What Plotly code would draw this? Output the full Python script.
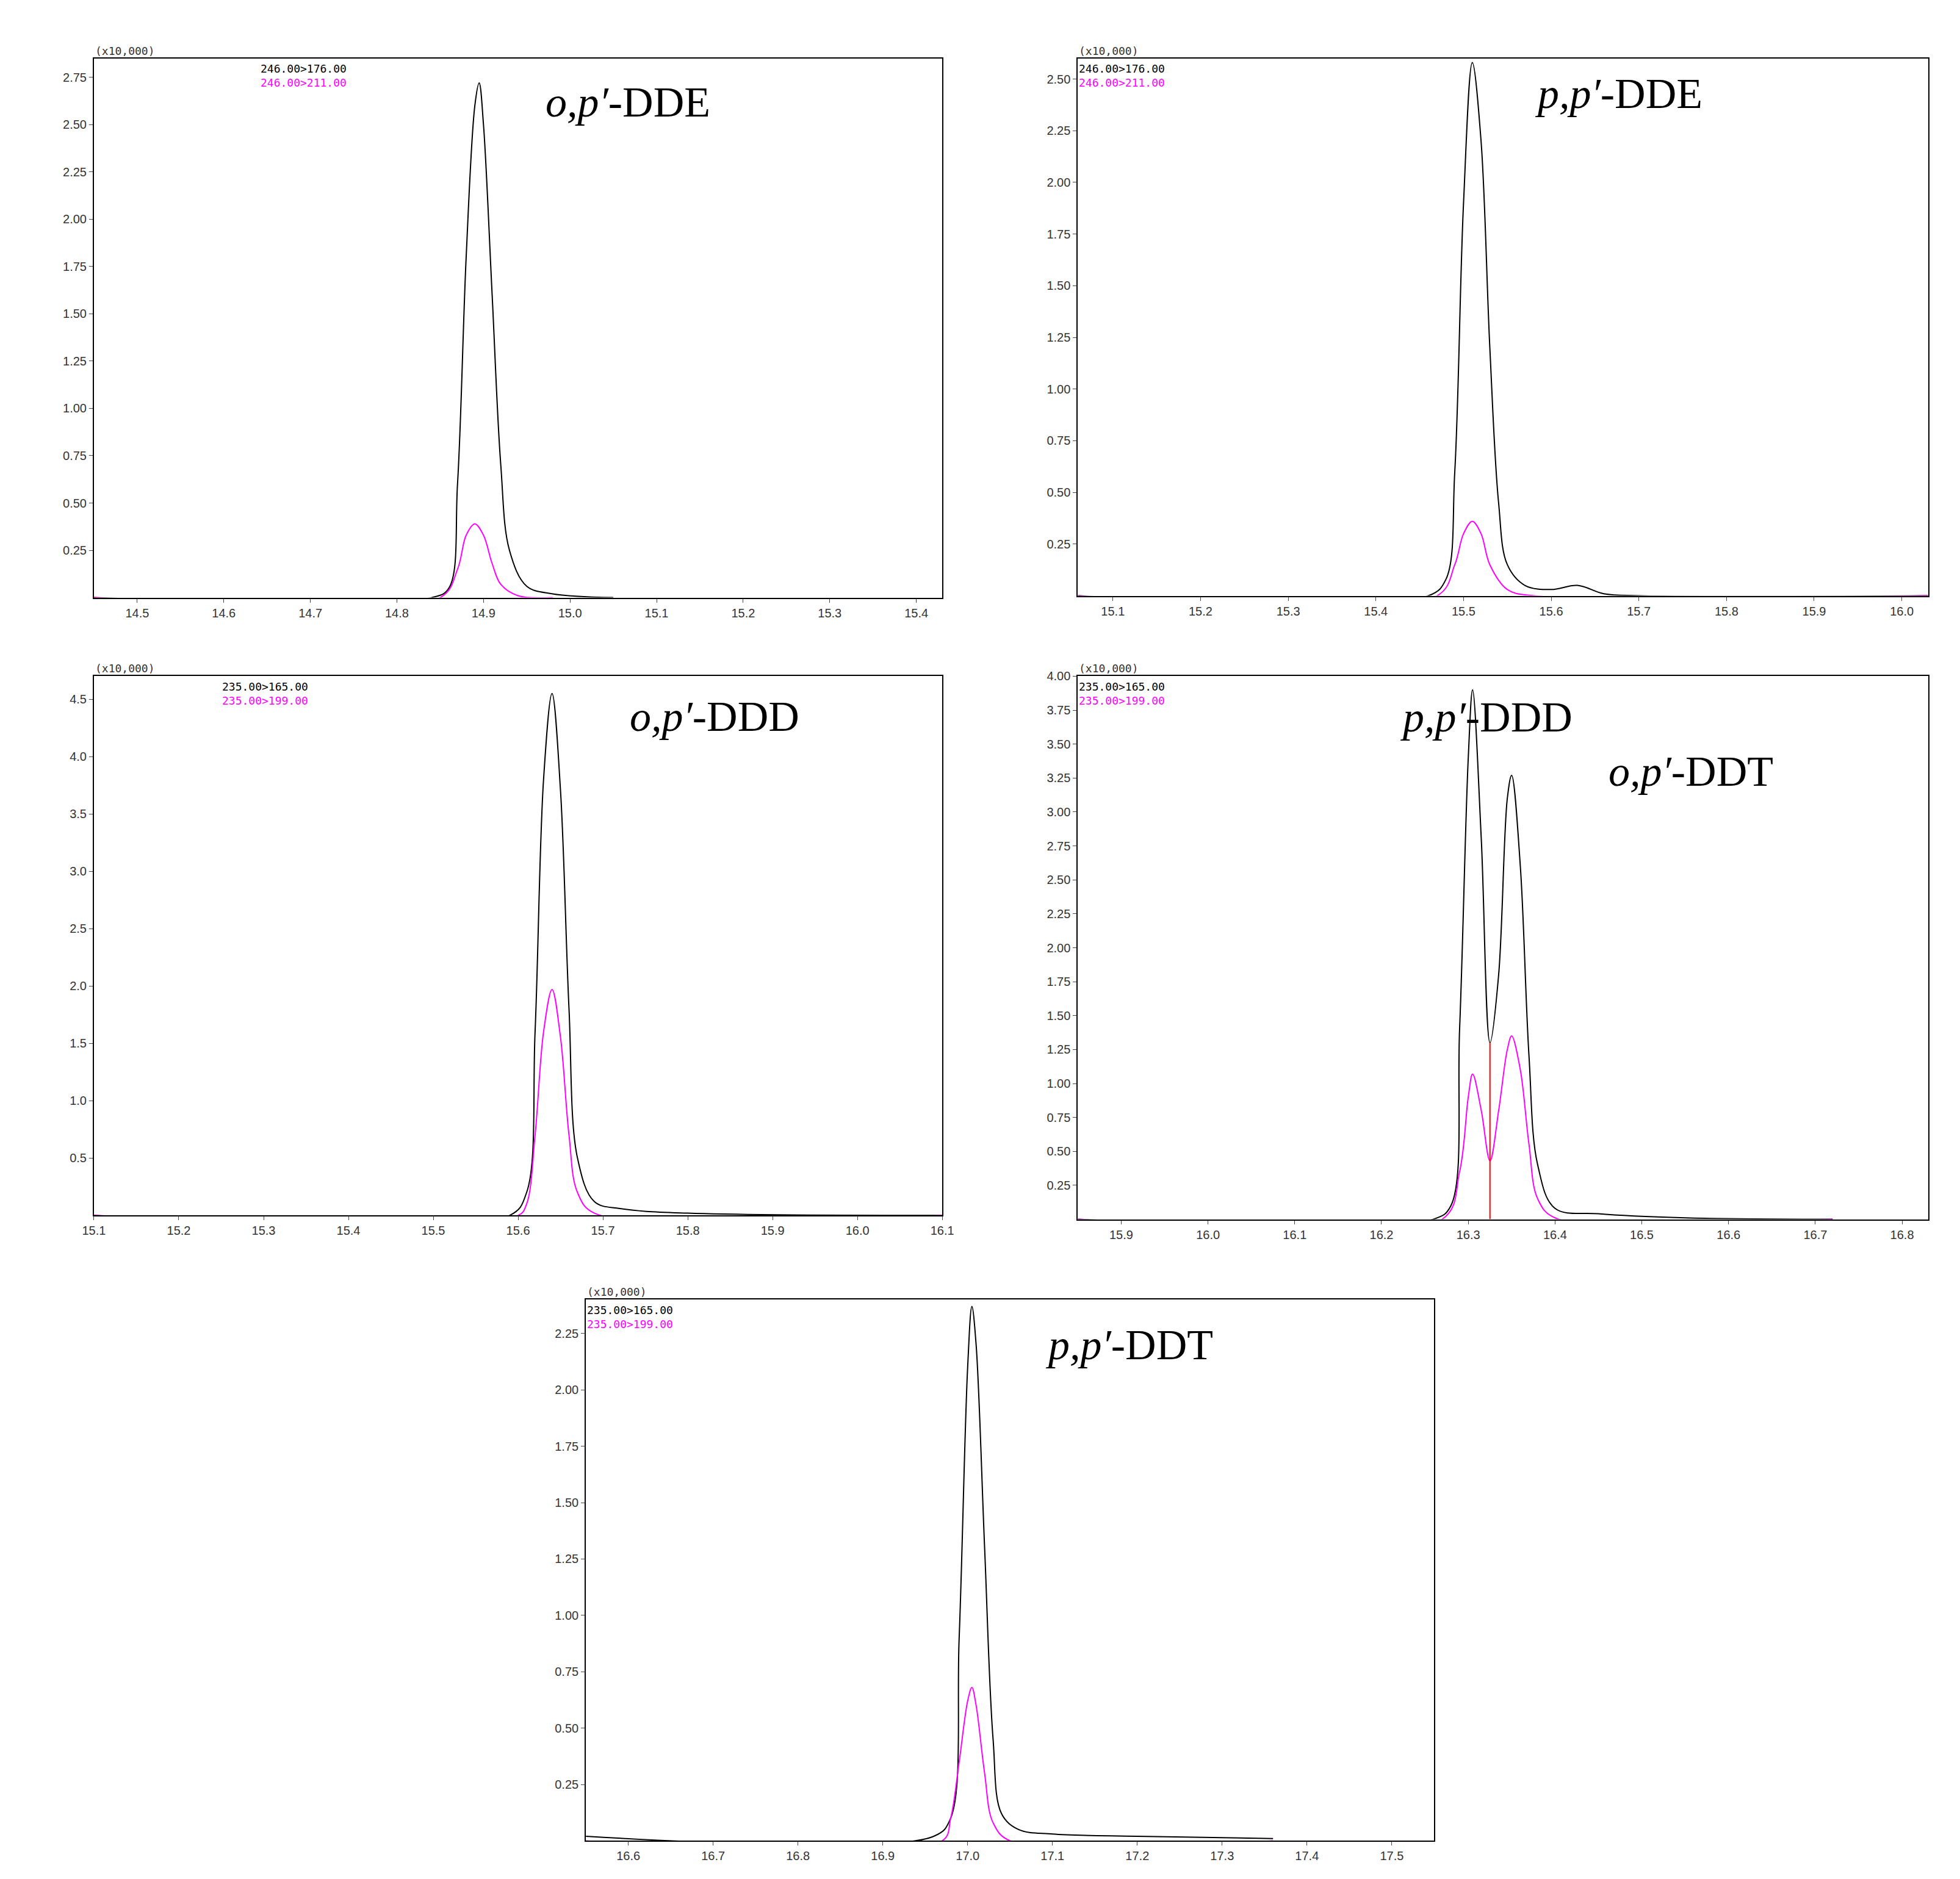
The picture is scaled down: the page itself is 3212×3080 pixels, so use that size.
import plotly.graph_objects as go

# chromatogram points (intensity in x10,000)
p1_t = [14.45, 14.84, 14.86, 14.87, 14.88, 14.89, 14.895, 14.90, 14.91, 14.92, 14.93, 14.95, 14.98, 15.05]
p1_a = [0.0, 0.0, 0.05, 0.6, 1.8, 2.6, 2.72, 2.5, 1.6, 0.7, 0.25, 0.06, 0.02, 0.0]
p1_bt = [14.45, 14.85, 14.87, 14.88, 14.89, 14.90, 14.91, 14.92, 14.94, 14.98]
p1_b = [0.0, 0.0, 0.15, 0.33, 0.39, 0.33, 0.18, 0.07, 0.01, 0.0]

p2_t = [15.06, 15.46, 15.48, 15.49, 15.50, 15.51, 15.52, 15.53, 15.54, 15.55, 15.57, 15.60, 15.63, 15.66, 15.70, 16.03]
p2_a = [0.0, 0.0, 0.08, 0.6, 1.9, 2.58, 2.2, 1.2, 0.45, 0.15, 0.05, 0.03, 0.05, 0.01, 0.0, 0.0]
p2_bt = [15.06, 15.47, 15.49, 15.50, 15.51, 15.52, 15.53, 15.55, 15.58, 16.03]
p2_b = [0.0, 0.0, 0.15, 0.3, 0.36, 0.3, 0.15, 0.03, 0.0, 0.0]

p3_t = [15.1, 15.59, 15.61, 15.62, 15.63, 15.64, 15.65, 15.66, 15.67, 15.69, 15.72, 15.8, 16.1]
p3_a = [0.0, 0.0, 0.2, 1.6, 3.8, 4.55, 3.7, 1.8, 0.5, 0.12, 0.06, 0.02, 0.0]
p3_bt = [15.1, 15.6, 15.61, 15.62, 15.63, 15.64, 15.65, 15.66, 15.67, 15.69, 16.1]
p3_b = [0.0, 0.0, 0.1, 0.7, 1.6, 1.97, 1.55, 0.7, 0.2, 0.02, 0.0]

p4_t = [15.85, 16.26, 16.28, 16.29, 16.30, 16.305, 16.315, 16.325, 16.335, 16.345, 16.35, 16.36, 16.37, 16.38, 16.40, 16.45, 16.55, 16.72]
p4_a = [0.0, 0.0, 0.1, 1.4, 3.4, 3.9, 2.8, 1.3, 1.8, 3.1, 3.27, 2.6, 1.2, 0.4, 0.08, 0.04, 0.01, 0.0]
p4_bt = [15.85, 16.27, 16.29, 16.30, 16.305, 16.315, 16.325, 16.335, 16.345, 16.35, 16.36, 16.37, 16.38, 16.40, 16.72]
p4_b = [0.0, 0.0, 0.35, 0.9, 1.07, 0.8, 0.43, 0.8, 1.25, 1.35, 1.1, 0.55, 0.15, 0.01, 0.0]

p5_t = [16.55, 16.96, 16.98, 16.99, 17.0, 17.005, 17.01, 17.02, 17.03, 17.04, 17.06, 17.1, 17.2, 17.36]
p5_a = [0.02, 0.02, 0.1, 0.9, 2.1, 2.37, 2.2, 1.3, 0.45, 0.12, 0.05, 0.03, 0.02, 0.01]
p5_bt = [16.55, 16.97, 16.98, 16.99, 17.0, 17.005, 17.01, 17.02, 17.03, 17.05, 17.36]
p5_b = [0.0, 0.0, 0.1, 0.35, 0.62, 0.68, 0.6, 0.3, 0.08, 0.0, 0.0]

panels = [
    dict(t=p1_t, a=p1_a, bt=p1_bt, b=p1_b, xr=[14.45, 15.43], yr=[0, 2.85],
         yt=[0.25, 0.5, 0.75, 1.0, 1.25, 1.5, 1.75, 2.0, 2.25, 2.5, 2.75], xt=[14.5, 14.6, 14.7, 14.8, 14.9, 15.0, 15.1, 15.2, 15.3, 15.4],
         mz=["246.00>176.00", "246.00>211.00"], names=[("<i>o,p′</i>-DDE", 14.97, 2.62)],
         dx=[0.04, 0.478], dy=[0.687, 0.975], lx=0.195),
    dict(t=p2_t, a=p2_a, bt=p2_bt, b=p2_b, xr=[15.06, 16.03], yr=[0, 2.6],
         yt=[0.25, 0.5, 0.75, 1.0, 1.25, 1.5, 1.75, 2.0, 2.25, 2.5], xt=[15.1, 15.2, 15.3, 15.4, 15.5, 15.6, 15.7, 15.8, 15.9, 16.0],
         mz=["246.00>176.00", "246.00>211.00"], names=[("<i>p,p′</i>-DDE", 15.58, 2.43)],
         dx=[0.548, 0.987], dy=[0.688, 0.975], lx=0.0),
    dict(t=p3_t, a=p3_a, bt=p3_bt, b=p3_b, xr=[15.1, 16.1], yr=[0, 4.7],
         yt=[0.5, 1.0, 1.5, 2.0, 2.5, 3.0, 3.5, 4.0, 4.5], xt=[15.1, 15.2, 15.3, 15.4, 15.5, 15.6, 15.7, 15.8, 15.9, 16.0, 16.1],
         mz=["235.00>165.00", "235.00>199.00"], names=[("<i>o,p′</i>-DDD", 15.73, 4.35)],
         dx=[0.04, 0.478], dy=[0.357, 0.645], lx=0.15),
    dict(t=p4_t, a=p4_a, bt=p4_bt, b=p4_b, xr=[15.85, 16.83], yr=[0, 4.0],
         yt=[0.25, 0.5, 0.75, 1.0, 1.25, 1.5, 1.75, 2.0, 2.25, 2.5, 2.75, 3.0, 3.25, 3.5, 3.75, 4.0], xt=[15.9, 16.0, 16.1, 16.2, 16.3, 16.4, 16.5, 16.6, 16.7, 16.8],
         mz=["235.00>165.00", "235.00>199.00"], names=[("<i>p,p′</i>-DDD", 16.22, 3.7), ("<i>o,p′</i>-DDT", 16.46, 3.3)],
         dx=[0.548, 0.987], dy=[0.355, 0.645], lx=0.0),
    dict(t=p5_t, a=p5_a, bt=p5_bt, b=p5_b, xr=[16.55, 17.55], yr=[0, 2.4],
         yt=[0.25, 0.5, 0.75, 1.0, 1.25, 1.5, 1.75, 2.0, 2.25], xt=[16.6, 16.7, 16.8, 16.9, 17.0, 17.1, 17.2, 17.3, 17.4, 17.5],
         mz=["235.00>165.00", "235.00>199.00"], names=[("<i>p,p′</i>-DDT", 17.09, 2.2)],
         dx=[0.294, 0.732], dy=[0.023, 0.312], lx=0.0),
]

fig = go.Figure()
layout = dict(width=3212, height=3080, plot_bgcolor="white", paper_bgcolor="white",
              showlegend=False, margin=dict(l=0, r=0, t=0, b=0))
annotations = []
for i, p in enumerate(panels, start=1):
    s = "" if i == 1 else str(i)
    xa, ya = "x" + s, "y" + s
    fig.add_trace(go.Scatter(x=p["t"], y=p["a"], mode="lines", line=dict(color="black", width=2, shape="spline"), xaxis=xa, yaxis=ya))
    fig.add_trace(go.Scatter(x=p["bt"], y=p["b"], mode="lines", line=dict(color="#ff00ff", width=2, shape="spline"), xaxis=xa, yaxis=ya))
    ax = dict(showgrid=False, showline=True, linecolor="black", linewidth=2, mirror=True, ticks="outside",
              ticklen=6, tickfont=dict(family="Liberation Sans", size=20, color="#333"), zeroline=False)
    layout["xaxis" + s] = dict(ax, domain=p["dx"], range=p["xr"], tickvals=p["xt"], tickformat=".1f", anchor=ya)
    layout["yaxis" + s] = dict(ax, domain=p["dy"], range=p["yr"], tickvals=p["yt"], tickformat=".2f" if p["yt"][0] == 0.25 else ".1f", anchor=xa)
    annotations.append(dict(text="(x10,000)", xref=f"{xa} domain", yref=f"{ya} domain", x=0, y=1, xanchor="left", yanchor="bottom",
                            showarrow=False, font=dict(family="DejaVu Sans Mono", size=18, color="#333")))
    annotations.append(dict(text=p["mz"][0] + "<br><span style='color:#ff00ff'>" + p["mz"][1] + "</span>", xref=f"{xa} domain", yref=f"{ya} domain",
                            x=p["lx"], y=0.995, xanchor="left", yanchor="top", align="left", showarrow=False,
                            font=dict(family="DejaVu Sans Mono", size=18, color="black")))
    for name, nx, ny in p["names"]:
        annotations.append(dict(text=name, x=nx, y=ny, xref=xa, yref=ya, xanchor="left", showarrow=False,
                                font=dict(family="Liberation Serif", size=70, color="black")))

# valley drop line between p,p'-DDD and o,p'-DDT
fig.add_trace(go.Scatter(x=[16.325, 16.325], y=[0, 1.3], mode="lines", line=dict(color="red", width=2), xaxis="x4", yaxis="y4"))

layout["annotations"] = annotations
fig.update_layout(**layout)
fig.write_html("out.html")
